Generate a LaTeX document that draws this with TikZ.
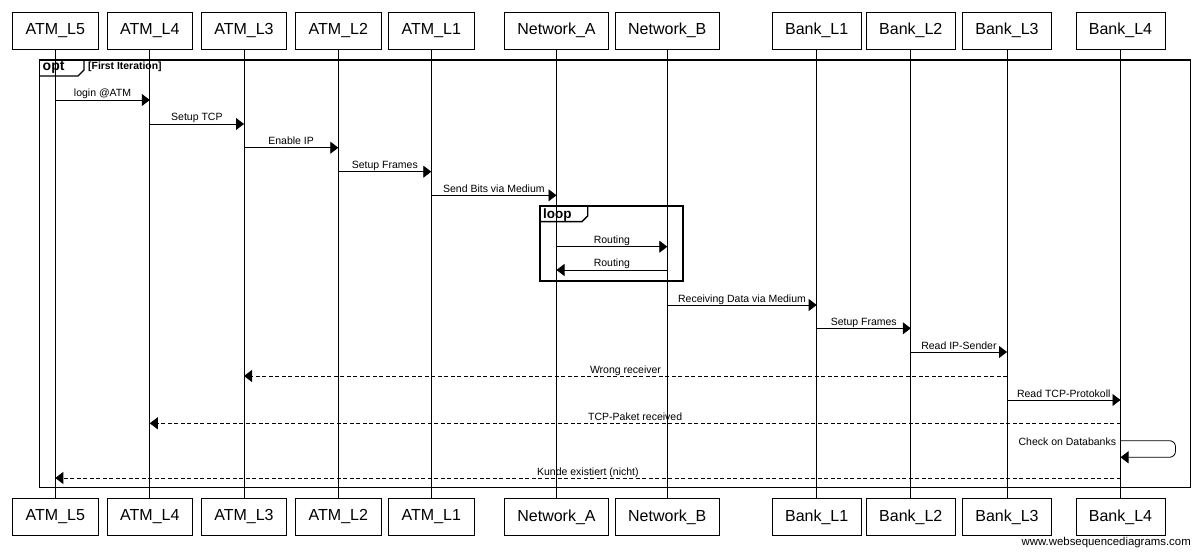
\documentclass[tikz,border=0pt]{standalone}
\usepackage{fontspec}
\setmainfont{Liberation Sans}
\usetikzlibrary{arrows.meta}

\begin{document}
\begin{tikzpicture}[x=1pt, y=-1pt]
\tikzset{actor/.style={draw, line width=0.8pt, minimum height=37pt, inner xsep=13pt, inner ysep=0pt, font=\fontsize{16}{18}\selectfont},
  msg/.style={line width=0.8pt, -{Triangle[length=8pt, width=12pt]}},
  reply/.style={msg, dash pattern=on 4pt off 2.5pt},
  lbl/.style={inner sep=0pt, anchor=base, yshift=3pt, font=\fontsize{10.5}{12}\selectfont},
  frame/.style={line width=1.8pt},
  tab/.style={line width=1.4pt}}
\useasboundingbox (0,0) rectangle (1200,556);
\node[actor] (A5) at (55.3,30.5) {ATM\_L5};
\node[actor] (A4) at (149.8,30.5) {ATM\_L4};
\node[actor] (A3) at (244,30.5) {ATM\_L3};
\node[actor] (A2) at (338.3,30.5) {ATM\_L2};
\node[actor] (A1) at (431.3,30.5) {ATM\_L1};
\node[actor] (NA) at (556.5,30.5) {Network\_A};
\node[actor] (NB) at (667.3,30.5) {Network\_B};
\node[actor] (B1) at (816.7,30.5) {Bank\_L1};
\node[actor] (B2) at (910.8,30.5) {Bank\_L2};
\node[actor] (B3) at (1007,30.5) {Bank\_L3};
\node[actor] (B4) at (1120.5,30.5) {Bank\_L4};
\node[actor] (A5b) at (55.3,517) {ATM\_L5};
\node[actor] (A4b) at (149.8,517) {ATM\_L4};
\node[actor] (A3b) at (244,517) {ATM\_L3};
\node[actor] (A2b) at (338.3,517) {ATM\_L2};
\node[actor] (A1b) at (431.3,517) {ATM\_L1};
\node[actor] (NAb) at (556.5,517) {Network\_A};
\node[actor] (NBb) at (667.3,517) {Network\_B};
\node[actor] (B1b) at (816.7,517) {Bank\_L1};
\node[actor] (B2b) at (910.8,517) {Bank\_L2};
\node[actor] (B3b) at (1007,517) {Bank\_L3};
\node[actor] (B4b) at (1120.5,517) {Bank\_L4};
\draw[line width=0.8pt] (A5) -- (A5b);
\draw[line width=0.8pt] (A4) -- (A4b);
\draw[line width=0.8pt] (A3) -- (A3b);
\draw[line width=0.8pt] (A2) -- (A2b);
\draw[line width=0.8pt] (A1) -- (A1b);
\draw[line width=0.8pt] (NA) -- (NAb);
\draw[line width=0.8pt] (NB) -- (NBb);
\draw[line width=0.8pt] (B1) -- (B1b);
\draw[line width=0.8pt] (B2) -- (B2b);
\draw[line width=0.8pt] (B3) -- (B3b);
\draw[line width=0.8pt] (B4) -- (B4b);
\coordinate (optnw) at (39.5,60);
\coordinate (optse) at (1190.5,487.5);
\draw[frame] (optnw) rectangle (optse);
\draw[tab] (39.5,76) -- (78,76) -- (84,70) -- (84,60);
\node[anchor=base west, inner sep=0pt, font=\fontsize{14}{16}\selectfont\bfseries] (opt) at (42.5,70.8) {opt};
\node[anchor=base west, inner sep=0pt, font=\fontsize{10.4}{12}\selectfont\bfseries] (optcond) at (88,70) {[First Iteration]};
\coordinate (loopnw) at (540,205.7);
\coordinate (loopse) at (683.3,280.7);
\draw[frame] (loopnw) rectangle (loopse);
\draw[tab] (540,221.7) -- (582,221.7) -- (587.7,216) -- (587.7,205.7);
\node[anchor=base west, inner sep=0pt, font=\fontsize{13.5}{15}\selectfont\bfseries] (loop) at (543,218.5) {loop};
\coordinate (m1) at (0,100);
\coordinate (m2) at (0,124);
\coordinate (m3) at (0,147.7);
\coordinate (m4) at (0,171.7);
\coordinate (m5) at (0,195.3);
\coordinate (m6) at (0,246.7);
\coordinate (m7) at (0,270);
\coordinate (m8) at (0,305);
\coordinate (m9) at (0,328.3);
\coordinate (m10) at (0,352);
\coordinate (m11) at (0,376);
\coordinate (m12) at (0,400);
\coordinate (m13) at (0,423.3);
\coordinate (m14) at (0,440.7);
\coordinate (m15) at (0,457.3);
\coordinate (m16) at (0,478);
\draw[msg] (A5 |- m1) -- node[lbl] {login @ATM} (A4 |- m1);
\draw[msg] (A4 |- m2) -- node[lbl] {Setup TCP} (A3 |- m2);
\draw[msg] (A3 |- m3) -- node[lbl] {Enable IP} (A2 |- m3);
\draw[msg] (A2 |- m4) -- node[lbl] {Setup Frames} (A1 |- m4);
\draw[msg] (A1 |- m5) -- node[lbl] {Send Bits via Medium} (NA |- m5);
\draw[msg] (NA |- m6) -- node[lbl] {Routing} (NB |- m6);
\draw[msg] (NB |- m7) -- node[lbl] {Routing} (NA |- m7);
\draw[msg] (NB |- m8) -- node[lbl] {Receiving Data via Medium} (B1 |- m8);
\draw[msg] (B1 |- m9) -- node[lbl] {Setup Frames} (B2 |- m9);
\draw[msg] (B2 |- m10) -- node[lbl] {Read IP-Sender} (B3 |- m10);
\draw[reply] (B3 |- m11) -- node[lbl] {Wrong receiver} (A3 |- m11);
\draw[msg] (B3 |- m12) -- node[lbl] {Read TCP-Protokoll} (B4 |- m12);
\draw[reply] (B4 |- m13) -- node[lbl] {TCP-Paket received} (A4 |- m13);
\draw[msg, rounded corners=6pt] (B4 |- m14) node[lbl, anchor=base east, xshift=-4pt, yshift=-7.3pt] {Check on Databanks} -- ++(55,0) -- ++(0,16.6) -- (B4 |- m15);
\draw[reply] (B4 |- m16) -- node[lbl] {Kunde existiert (nicht)} (A5 |- m16);
\node[anchor=base east, inner sep=0pt, font=\fontsize{11.4}{13}\selectfont] (wsd) at (1191,545.5) {www.websequencediagrams.com};
\end{tikzpicture}
\end{document}
